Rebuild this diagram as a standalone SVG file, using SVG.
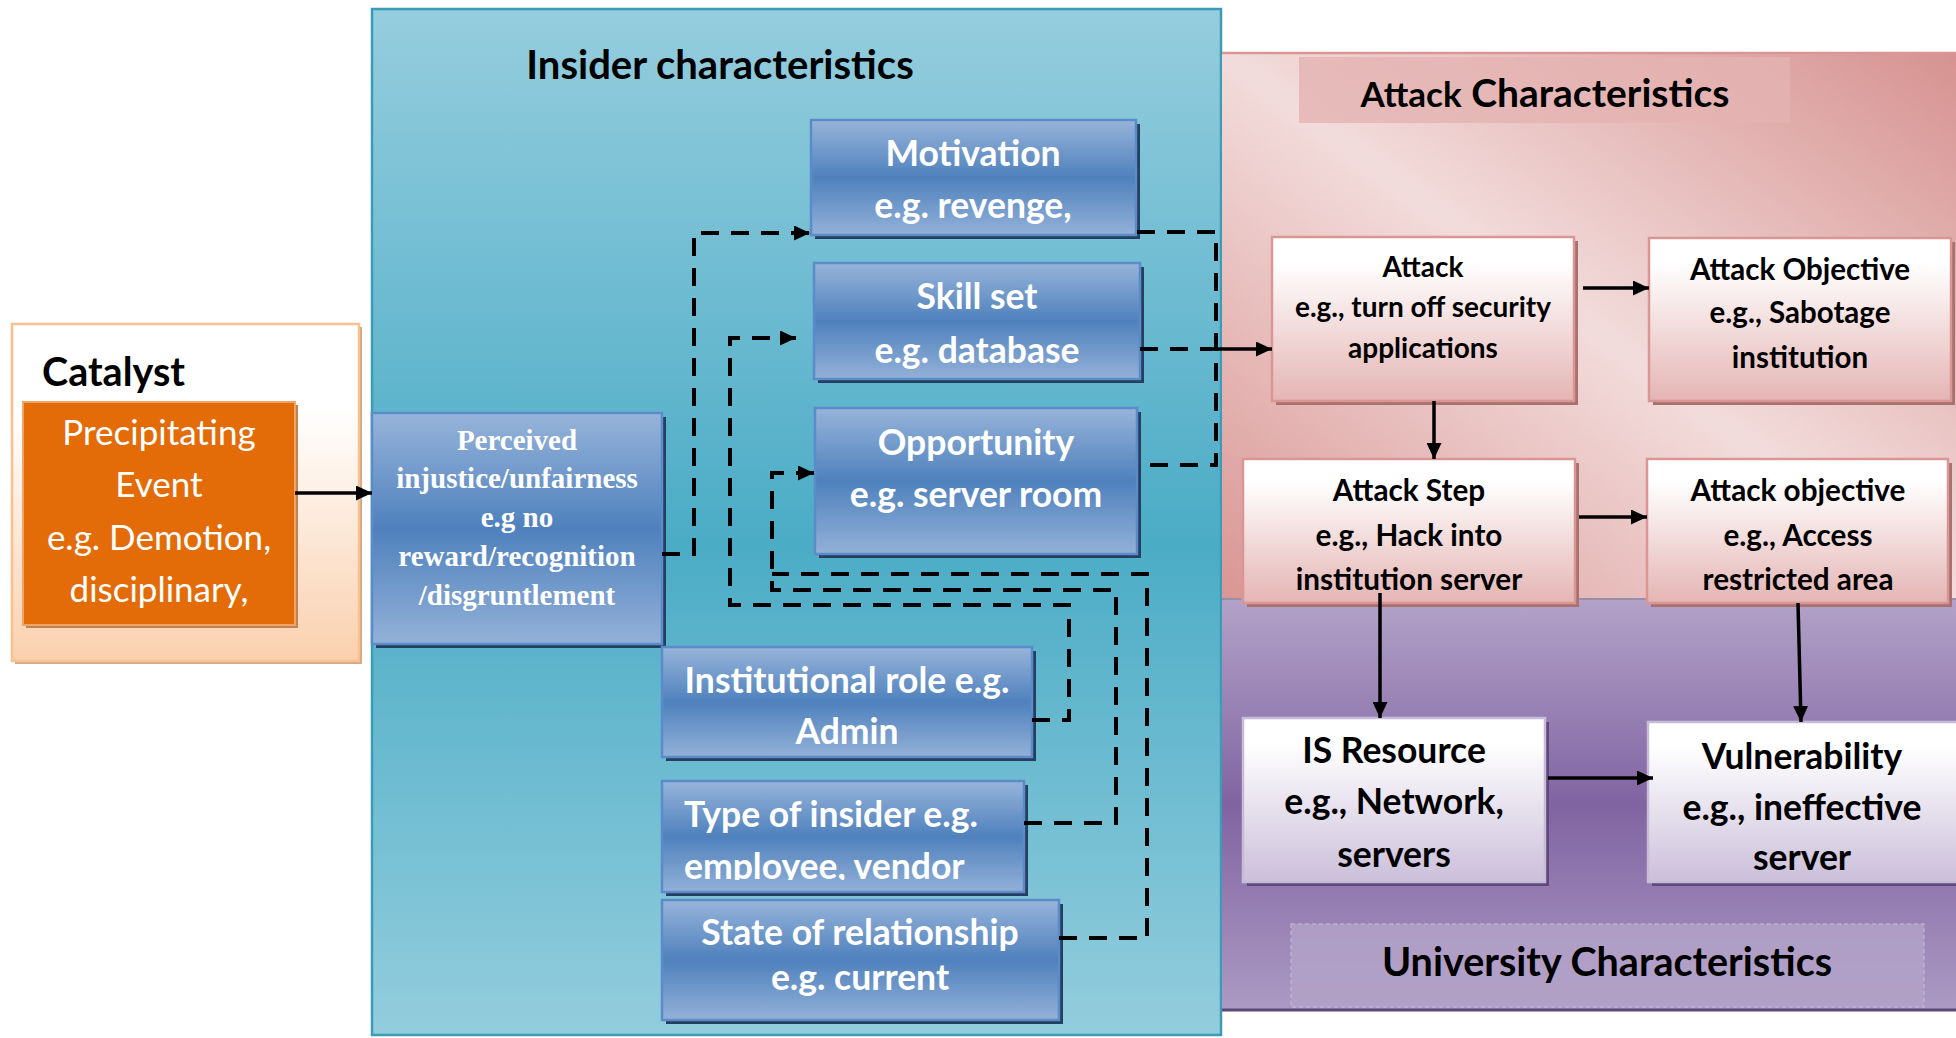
<svg xmlns="http://www.w3.org/2000/svg" width="1956" height="1038" viewBox="0 0 1956 1038">
  <style>
    .lb { font-family: Lato, "Open Sans", sans-serif; font-weight: 700; }
    .lr { font-family: Lato, "Open Sans", sans-serif; font-weight: 400; }
    .ser { font-family: "Liberation Serif", "Times New Roman", serif; font-weight: 700; }
    .wt { fill: #ffffff; }
    .bk { fill: #000000; }
    .mid { text-anchor: middle; }
    .bt { font-size: 35.5px; }
    .blue { fill: url(#gBlue); stroke: #5B8BC9; stroke-width: 2.5; }
    .blueSh { fill: #243F60; }
    .pink { fill: url(#gPink); stroke: #D99694; stroke-width: 2.5; }
    .pinkSh { fill: #A8706F; }
    .lav { fill: url(#gLav); stroke: #C7BBD8; stroke-width: 2.5; }
    .lavSh { fill: #5F497A; }
    .dash { fill: none; stroke: #000; stroke-width: 4; stroke-dasharray: 18 12; }
    .solid { fill: none; stroke: #000; stroke-width: 3.5; }
  </style>
  <defs>
    <linearGradient id="gCat" x1="0" y1="0" x2="0" y2="1">
      <stop offset="0" stop-color="#FFFFFF"/>
      <stop offset="0.25" stop-color="#FFFFFF"/>
      <stop offset="1" stop-color="#FAD0AE"/>
    </linearGradient>
    <linearGradient id="gInsider" x1="0" y1="0" x2="0" y2="1">
      <stop offset="0" stop-color="#95CDDE"/>
      <stop offset="0.52" stop-color="#4BACC6"/>
      <stop offset="1" stop-color="#93CDDD"/>
    </linearGradient>
    <linearGradient id="gBlue" x1="0" y1="0" x2="0" y2="1">
      <stop offset="0" stop-color="#97B4DA"/>
      <stop offset="0.5" stop-color="#4F81BD"/>
      <stop offset="1" stop-color="#93B1D8"/>
    </linearGradient>
    <linearGradient id="gAttack" x1="1" y1="0" x2="0" y2="1">
      <stop offset="0" stop-color="#D69290"/>
      <stop offset="0.5" stop-color="#F2DCDB"/>
      <stop offset="1" stop-color="#D99694"/>
    </linearGradient>
    <linearGradient id="gUni" x1="0" y1="0" x2="0" y2="1">
      <stop offset="0" stop-color="#B3A2C8"/>
      <stop offset="0.5" stop-color="#8064A2"/>
      <stop offset="1" stop-color="#AC9AC3"/>
    </linearGradient>
    <linearGradient id="gPink" x1="0" y1="0" x2="0" y2="1">
      <stop offset="0" stop-color="#FFFFFF"/>
      <stop offset="0.15" stop-color="#FFFFFF"/>
      <stop offset="1" stop-color="#E4B5B4"/>
    </linearGradient>
    <linearGradient id="gLav" x1="0" y1="0" x2="0" y2="1">
      <stop offset="0" stop-color="#FFFFFF"/>
      <stop offset="0.15" stop-color="#FFFFFF"/>
      <stop offset="1" stop-color="#CBBFDA"/>
    </linearGradient>
    <marker id="ah" markerUnits="userSpaceOnUse" markerWidth="17" markerHeight="15" refX="16" refY="7.5" orient="auto">
      <path d="M0,0 L16,7.5 L0,15 z" fill="#000"/>
    </marker>
    <clipPath id="clipType">
      <rect x="662" y="781" width="362" height="99"/>
    </clipPath>
  </defs>

  <!-- background panels -->
  <g id="panel-insider">
    <rect x="372" y="9" width="849" height="1026" fill="url(#gInsider)" stroke="#3C9BB5" stroke-width="2.5"/>
    <text class="lb bk mid" x="720" y="79" font-size="40">Insider characteristics</text>
  </g>

  <g id="panel-attack">
    <rect x="1222" y="52" width="734" height="547" fill="url(#gAttack)"/>
    <line x1="1222" y1="53" x2="1956" y2="53" stroke="#D99694" stroke-width="2.5"/>
    <rect x="1299" y="57" width="491" height="66" fill="#E3B3B2" opacity="0.8"/>
    <text class="lb bk mid" x="1545" y="107" font-size="39"><tspan font-size="35">Attack</tspan> Characteristics</text>
  </g>

  <g id="panel-university">
    <rect x="1222" y="599" width="734" height="412" fill="url(#gUni)"/>
    <line x1="1222" y1="599" x2="1956" y2="599" stroke="#9A8FA8" stroke-width="2"/>
    <line x1="1222" y1="1010" x2="1956" y2="1010" stroke="#5F497A" stroke-width="3"/>
    <rect x="1291" y="924" width="633" height="83" fill="#B3A2C8" opacity="0.85" stroke="#C4B6D6" stroke-width="1.5" stroke-dasharray="4 3"/>
    <text class="lb bk mid" x="1607" y="976" font-size="39.5">University Characteristics</text>
  </g>

  <!-- catalyst -->
  <g id="catalyst">
    <rect x="15" y="327" width="347" height="337" fill="#CFAA86"/>
    <rect x="12" y="324" width="347" height="337" fill="url(#gCat)" stroke="#FAC090" stroke-width="2.5"/>
    <rect x="23" y="343" width="325" height="59" fill="#FFFFFF"/>
    <text class="lb bk" x="42" y="386" font-size="39.5">Catalyst</text>
  </g>
  <g id="precipitating-event">
    <rect x="26" y="405" width="272" height="223" fill="#C0824F"/>
    <rect x="23" y="402" width="272" height="223" fill="#E36C09" stroke="#F0A468" stroke-width="2"/>
    <text class="lr wt mid" x="159" y="445" font-size="35">Precipitating</text>
    <text class="lr wt mid" x="159" y="497" font-size="35">Event</text>
    <text class="lr wt mid" x="159" y="550" font-size="35">e.g. Demotion,</text>
    <text class="lr wt mid" x="159" y="602" font-size="35">disciplinary,</text>
  </g>

  <!-- insider characteristic nodes -->
  <g id="perceived-injustice">
    <rect x="376" y="417" width="290" height="231" class="blueSh"/>
    <rect x="372" y="413" width="290" height="231" class="blue"/>
    <text class="ser wt mid" x="517" y="450" font-size="29">Perceived</text>
    <text class="ser wt mid" x="517" y="488" font-size="29">injustice/unfairness</text>
    <text class="ser wt mid" x="517" y="527" font-size="29">e.g no</text>
    <text class="ser wt mid" x="517" y="566" font-size="29">reward/recognition</text>
    <text class="ser wt mid" x="517" y="605" font-size="29">/disgruntlement</text>
  </g>

  <g id="motivation">
    <rect x="815" y="124" width="325" height="115" class="blueSh"/>
    <rect x="811" y="120" width="325" height="115" class="blue"/>
    <text class="lb bt wt mid" x="973" y="166">Motivation</text>
    <text class="lb bt wt mid" x="973" y="218">e.g. revenge,</text>
  </g>

  <g id="skill-set">
    <rect x="818" y="267" width="326" height="116" class="blueSh"/>
    <rect x="814" y="263" width="326" height="116" class="blue"/>
    <text class="lb bt wt mid" x="977" y="309">Skill set</text>
    <text class="lb bt wt mid" x="977" y="363">e.g. database</text>
  </g>

  <g id="opportunity">
    <rect x="819" y="412" width="322" height="146" class="blueSh"/>
    <rect x="815" y="408" width="322" height="146" class="blue"/>
    <text class="lb bt wt mid" x="976" y="455">Opportunity</text>
    <text class="lb bt wt mid" x="976" y="507">e.g. server room</text>
  </g>

  <g id="institutional-role">
    <rect x="666" y="651" width="370" height="110" class="blueSh"/>
    <rect x="662" y="647" width="370" height="110" class="blue"/>
    <text class="lb bt wt mid" x="847" y="693">Institutional role e.g.</text>
    <text class="lb bt wt mid" x="847" y="744">Admin</text>
  </g>

  <g id="type-of-insider">
    <rect x="666" y="785" width="362" height="111" class="blueSh"/>
    <rect x="662" y="781" width="362" height="111" class="blue"/>
    <g clip-path="url(#clipType)">
      <text class="lb bt wt" x="684" y="827">Type of insider e.g.</text>
      <text class="lb bt wt" x="684" y="879">employee, vendor</text>
    </g>
  </g>

  <g id="state-of-relationship">
    <rect x="666" y="904" width="397" height="120" class="blueSh"/>
    <rect x="662" y="900" width="397" height="120" class="blue"/>
    <text class="lb bt wt mid" x="860" y="945">State of relationship</text>
    <text class="lb bt wt mid" x="860" y="990">e.g. current</text>
  </g>

  <!-- attack characteristic nodes -->
  <g id="attack">
    <rect x="1276" y="241" width="302" height="164" class="pinkSh"/>
    <rect x="1272" y="237" width="302" height="164" class="pink"/>
    <text class="lb bk mid" x="1423" y="277" font-size="28">Attack</text>
    <text class="lb bk mid" x="1423" y="317" font-size="28">e.g., turn off security</text>
    <text class="lb bk mid" x="1423" y="358" font-size="28">applications</text>
  </g>

  <g id="attack-objective">
    <rect x="1653" y="242" width="302" height="163" class="pinkSh"/>
    <rect x="1649" y="238" width="302" height="163" class="pink"/>
    <text class="lb bk mid" x="1800" y="280" font-size="29.5">Attack Objective</text>
    <text class="lb bk mid" x="1800" y="323" font-size="29.5">e.g., Sabotage</text>
    <text class="lb bk mid" x="1800" y="368" font-size="29.5">institution</text>
  </g>

  <g id="attack-step">
    <rect x="1247" y="463" width="332" height="144" class="pinkSh"/>
    <rect x="1243" y="459" width="332" height="144" class="pink"/>
    <text class="lb bk mid" x="1409" y="501" font-size="29.7">Attack Step</text>
    <text class="lb bk mid" x="1409" y="546" font-size="29.7">e.g., Hack into</text>
    <text class="lb bk mid" x="1409" y="590" font-size="29.7">institution server</text>
  </g>

  <g id="attack-objective-access">
    <rect x="1651" y="463" width="301" height="144" class="pinkSh"/>
    <rect x="1647" y="459" width="301" height="144" class="pink"/>
    <text class="lb bk mid" x="1798" y="501" font-size="29.7">Attack objective</text>
    <text class="lb bk mid" x="1798" y="546" font-size="29.7">e.g., Access</text>
    <text class="lb bk mid" x="1798" y="590" font-size="29.7">restricted area</text>
  </g>

  <!-- university characteristic nodes -->
  <g id="is-resource">
    <rect x="1247" y="722" width="302" height="164" class="lavSh"/>
    <rect x="1243" y="718" width="302" height="164" class="lav"/>
    <text class="lb bt bk mid" x="1394" y="763">IS Resource</text>
    <text class="lb bt bk mid" x="1394" y="814">e.g., Network,</text>
    <text class="lb bt bk mid" x="1394" y="867">servers</text>
  </g>

  <g id="vulnerability">
    <rect x="1652" y="726" width="310" height="160" class="lavSh"/>
    <rect x="1648" y="722" width="310" height="160" class="lav"/>
    <text class="lb bt bk mid" x="1802" y="769">Vulnerability</text>
    <text class="lb bt bk mid" x="1802" y="820">e.g., ineffective</text>
    <text class="lb bt bk mid" x="1802" y="870">server</text>
  </g>

  <!-- connectors -->
  <g id="connectors">
    <!-- solid flow arrows -->
    <path class="solid" d="M295,493 H372" marker-end="url(#ah)"/>
    <path class="solid" d="M1205,349 H1272" marker-end="url(#ah)"/>
    <path class="solid" d="M1583,288 H1649" marker-end="url(#ah)"/>
    <path class="solid" d="M1434,401 V459" marker-end="url(#ah)"/>
    <path class="solid" d="M1579,517 H1647" marker-end="url(#ah)"/>
    <path class="solid" d="M1380,593 V718" marker-end="url(#ah)"/>
    <path class="solid" d="M1798,603 L1801,722" marker-end="url(#ah)"/>
    <path class="solid" d="M1548,778 H1653" marker-end="url(#ah)"/>

    <!-- dashed links inside insider characteristics -->
    <path class="dash" d="M662,554 H694 V233 H810" marker-end="url(#ah)"/>
    <path class="dash" d="M1032,720 H1069 V605 H730 V338 H796" marker-end="url(#ah)"/>
    <path class="dash" d="M1024,823 H1116 V590 H772 V473 H814" marker-end="url(#ah)"/>
    <path class="dash" d="M1059,938 H1147 V574 H772"/>

    <!-- dashed links from motivation, skill set and opportunity to attack -->
    <path class="dash" d="M1137,232 H1216 V465 H1145"/>
    <path class="dash" d="M1140,349 H1212"/>
  </g>
</svg>
